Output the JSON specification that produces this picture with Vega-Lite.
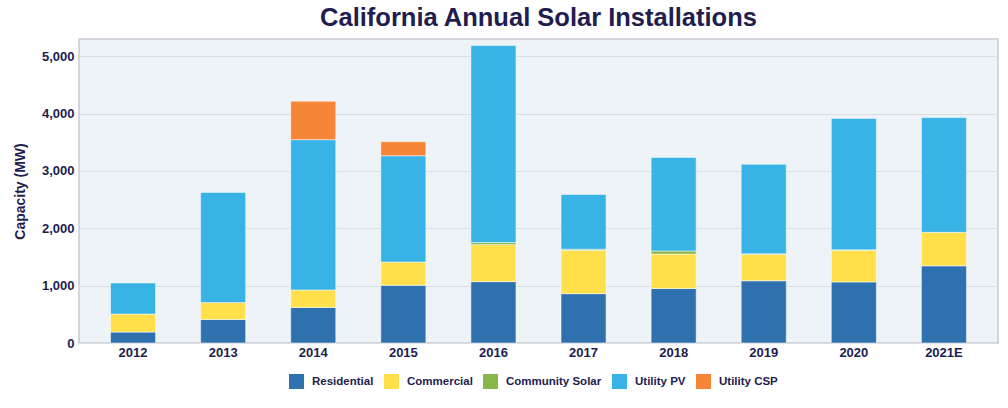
{
  "$schema": "https://vega.github.io/schema/vega-lite/v6.json",
  "autosize": {"type": "none"},
  "padding": {"left": 79, "top": 39, "right": 10, "bottom": 65},
  "width": 919,
  "height": 304,
  "background": "#ffffff",
  "title": {
    "text": "California Annual Solar Installations",
    "fontSize": 25.5,
    "font": "Liberation Sans",
    "fontWeight": "bold",
    "color": "#221d4f",
    "anchor": "middle",
    "offset": 8
  },
  "data": {
    "values": [
      {"year": "2012", "type": "Residential", "mw": 190},
      {"year": "2012", "type": "Commercial", "mw": 315},
      {"year": "2012", "type": "Utility PV", "mw": 540},
      {"year": "2013", "type": "Residential", "mw": 410},
      {"year": "2013", "type": "Commercial", "mw": 295},
      {"year": "2013", "type": "Utility PV", "mw": 1920},
      {"year": "2014", "type": "Residential", "mw": 620},
      {"year": "2014", "type": "Commercial", "mw": 305},
      {"year": "2014", "type": "Utility PV", "mw": 2620},
      {"year": "2014", "type": "Utility CSP", "mw": 670},
      {"year": "2015", "type": "Residential", "mw": 1005},
      {"year": "2015", "type": "Commercial", "mw": 405},
      {"year": "2015", "type": "Utility PV", "mw": 1855},
      {"year": "2015", "type": "Utility CSP", "mw": 245},
      {"year": "2016", "type": "Residential", "mw": 1070},
      {"year": "2016", "type": "Commercial", "mw": 645},
      {"year": "2016", "type": "Community Solar", "mw": 35},
      {"year": "2016", "type": "Utility PV", "mw": 3435},
      {"year": "2017", "type": "Residential", "mw": 860},
      {"year": "2017", "type": "Commercial", "mw": 755},
      {"year": "2017", "type": "Community Solar", "mw": 20},
      {"year": "2017", "type": "Utility PV", "mw": 955},
      {"year": "2018", "type": "Residential", "mw": 950},
      {"year": "2018", "type": "Commercial", "mw": 600},
      {"year": "2018", "type": "Community Solar", "mw": 55},
      {"year": "2018", "type": "Utility PV", "mw": 1630},
      {"year": "2019", "type": "Residential", "mw": 1085},
      {"year": "2019", "type": "Commercial", "mw": 460},
      {"year": "2019", "type": "Community Solar", "mw": 10},
      {"year": "2019", "type": "Utility PV", "mw": 1560},
      {"year": "2020", "type": "Residential", "mw": 1065},
      {"year": "2020", "type": "Commercial", "mw": 550},
      {"year": "2020", "type": "Community Solar", "mw": 10},
      {"year": "2020", "type": "Utility PV", "mw": 2290},
      {"year": "2021E", "type": "Residential", "mw": 1345},
      {"year": "2021E", "type": "Commercial", "mw": 585},
      {"year": "2021E", "type": "Utility PV", "mw": 2000}
    ]
  },
  "transform": [
    {"calculate": "indexof(['Residential', 'Commercial', 'Community Solar', 'Utility PV', 'Utility CSP'], datum.type)", "as": "stackRank"}
  ],
  "mark": {"type": "bar", "stroke": "#ffffff", "strokeWidth": 1, "strokeOpacity": 0.5},
  "encoding": {
    "x": {
      "field": "year",
      "type": "nominal",
      "sort": null,
      "title": null,
      "scale": {"paddingInner": 0.5, "paddingOuter": 0.35},
      "axis": {
        "labelAngle": 0,
        "labelFont": "Liberation Sans",
        "labelFontSize": 13,
        "labelFontWeight": "bold",
        "labelColor": "#221d4f",
        "labelPadding": 3,
        "ticks": false,
        "domain": false
      }
    },
    "y": {
      "field": "mw",
      "type": "quantitative",
      "stack": "zero",
      "title": "Capacity (MW)",
      "scale": {"domain": [0, 5300], "nice": false},
      "axis": {
        "values": [0, 1000, 2000, 3000, 4000, 5000],
        "format": ",.0f",
        "labelFont": "Liberation Sans",
        "labelFontSize": 13,
        "labelFontWeight": "bold",
        "labelColor": "#221d4f",
        "labelPadding": 5,
        "ticks": false,
        "domain": false,
        "gridColor": "#d9dee3",
        "titleFont": "Liberation Sans",
        "titleFontSize": 14,
        "titleFontWeight": "bold",
        "titleColor": "#221d4f",
        "titlePadding": 14
      }
    },
    "order": {"field": "stackRank", "type": "quantitative", "sort": "ascending"},
    "color": {
      "field": "type",
      "type": "nominal",
      "scale": {
        "domain": ["Residential", "Commercial", "Community Solar", "Utility PV", "Utility CSP"],
        "range": ["#2f70ae", "#ffe04b", "#89b74c", "#38b3e5", "#f78538"]
      },
      "legend": {
        "title": null,
        "orient": "none",
        "direction": "horizontal",
        "legendX": 210,
        "legendY": 335,
        "symbolType": "square",
        "symbolSize": 225,
        "symbolStrokeWidth": 0,
        "symbolOpacity": 1,
        "labelFont": "Liberation Sans",
        "labelFontSize": 11.5,
        "labelFontWeight": "bold",
        "labelColor": "#221d4f",
        "labelOffset": 8,
        "columnPadding": 10
      }
    }
  },
  "config": {
    "view": {"fill": "#eef3f7", "stroke": "#c6ccd2", "strokeWidth": 1.5}
  }
}
